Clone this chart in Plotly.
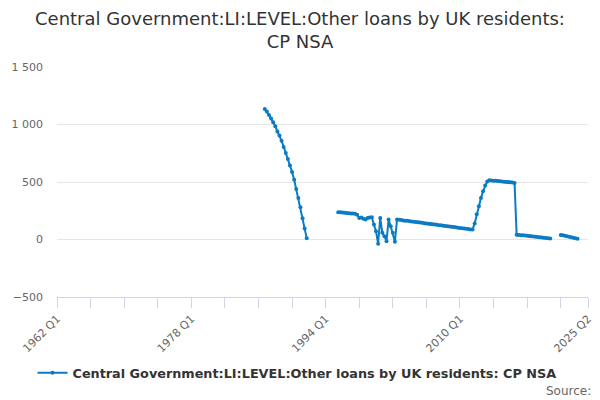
import plotly.graph_objects as go

# quarterly categories from 1962 Q1 to 2025 Q2
first_year = 1962
last_year = 2025
quarters = [f"{y} Q{q}" for y in range(first_year, last_year + 1) for q in range(1, 5)]
quarters = quarters[:quarters.index("2025 Q2") + 1]

# values, starting at 1986 Q4 (None = no data)
series_start = "1986 Q4"
seg_1986_1991 = [1134, 1112, 1082, 1052, 1020, 985, 940, 905, 858, 805, 753,
                 700, 643, 588, 520, 440, 360, 280, 185, 95, 10]
gap_1992_1995 = [None] * 14
seg_1995_2002 = [238, 236, 234, 232, 230, 228, 227, 226, 225, 215, 188, 192,
                 180, 175, 188, 192, 194, 130, 72, -37, 188, 58, 29, -15, 174,
                 115, 58, -20, 174]
seg_2002_2011 = [171, 169, 166, 164, 162, 159, 157, 155, 152, 150, 147, 145,
                 142, 140, 137, 135, 133, 130, 128, 125, 123, 120, 118, 115,
                 113, 111, 108, 106, 103, 101, 98, 96, 93, 91, 88, 86]
seg_2011_2016 = [140, 220, 290, 360, 420, 470, 505, 515, 513, 511, 510, 508,
                 506, 505, 503, 501, 499, 497, 495, 492]
seg_2016_2020 = [42, 40, 38, 36, 34, 32, 30, 28, 26, 24, 22, 20, 17, 15, 12, 10, 8]
gap_2021 = [None] * 4
seg_2022_2024 = [40, 36, 32, 28, 24, 20, 15, 10, 6]

values = (seg_1986_1991 + gap_1992_1995 + seg_1995_2002 + seg_2002_2011
          + seg_2011_2016 + seg_2016_2020 + gap_2021 + seg_2022_2024)

start = quarters.index(series_start)
y_full = [None] * start + values
y_full += [None] * (len(quarters) - len(y_full))

title = "Central Government:LI:LEVEL:Other loans by UK residents:<br>CP NSA"
series_name = "Central Government:LI:LEVEL:Other loans by UK residents: CP NSA"

# labelled ticks every 16 years, minor ticks every 4 years, plus the last quarter
tick_idx = list(range(0, len(quarters), 16)) + [len(quarters) - 1]
tick_vals = [quarters[i] for i in tick_idx]
tick_text = [quarters[i] if (i % 64 == 0 or i == len(quarters) - 1) else "" for i in tick_idx]

line_color = "#0b7bc4"
font_family = "DejaVu Sans, sans-serif"

fig = go.Figure()
fig.add_trace(go.Scatter(
    x=quarters,
    y=y_full,
    mode="lines+markers",
    name=series_name,
    line=dict(color=line_color, width=2),
    marker=dict(color=line_color, size=4),
    connectgaps=False,
))

# the page has an 8px body margin, so the figure is drawn 8px smaller
fig.update_layout(
    width=592,
    height=392,
    paper_bgcolor="white",
    plot_bgcolor="white",
    font=dict(family=font_family, color="#333333"),
    separators=". ",
    margin=dict(l=49, r=12, t=59, b=103),
    title=dict(
        text=title,
        x=0.4932,
        xref="container",
        y=0.957,
        yref="container",
        yanchor="top",
        font=dict(size=18, color="#333333", family=font_family),
    ),
    showlegend=True,
    legend=dict(
        orientation="h",
        x=0.452,
        xanchor="center",
        y=-0.33,
        yanchor="middle",
        itemwidth=30,
        font=dict(size=12.8, color="#333333", family=font_family, weight="bold"),
    ),
    annotations=[dict(
        text="Source:",
        xref="paper",
        yref="paper",
        x=1.01,
        y=-0.41,
        xanchor="right",
        yanchor="middle",
        showarrow=False,
        font=dict(size=12, color="#666666", family=font_family),
    )],
)

fig.update_xaxes(
    type="category",
    range=[0, len(quarters) - 1],
    tickmode="array",
    tickvals=tick_vals,
    ticktext=tick_text,
    tickangle=-45,
    ticks="outside",
    ticklen=10,
    tickcolor="#ccd6eb",
    showline=True,
    linecolor="#ccd6eb",
    linewidth=1,
    showgrid=False,
    automargin=False,
    tickfont=dict(size=11, color="#666666", family=font_family),
)

fig.update_yaxes(
    range=[-500, 1500],
    dtick=500,
    tickformat=",d",
    separatethousands=True,
    showgrid=True,
    gridcolor="#e6e6e6",
    zeroline=False,
    showline=False,
    ticks="",
    ticklabelstandoff=13,
    automargin=False,
    tickfont=dict(size=11, color="#666666", family=font_family),
)

fig.write_html("out.html")
